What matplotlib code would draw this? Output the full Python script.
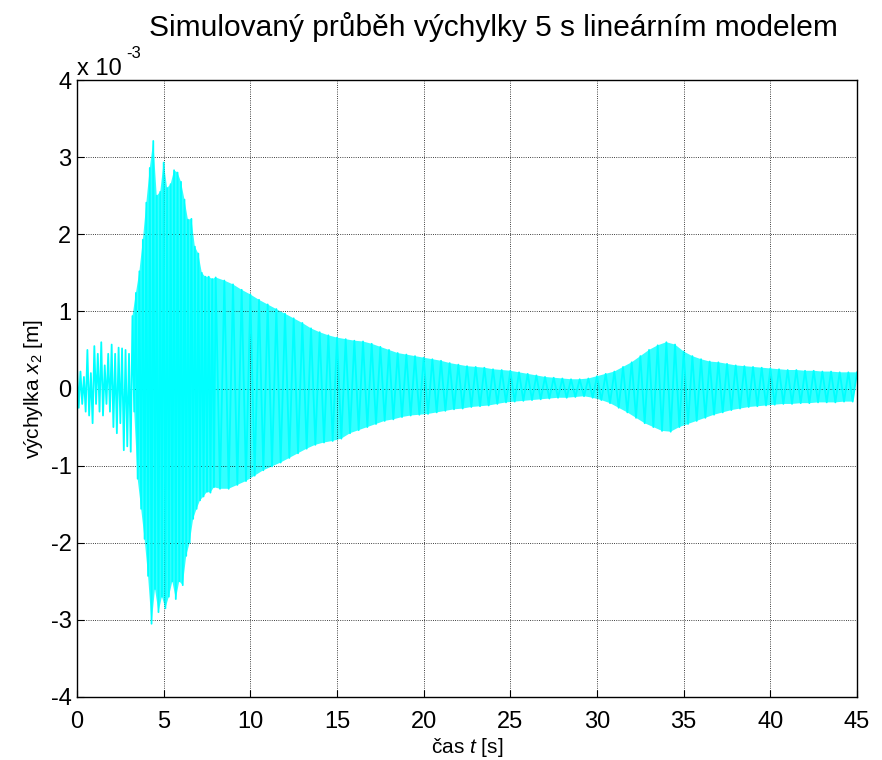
import numpy as np
import matplotlib
matplotlib.use('Agg')
import matplotlib.pyplot as plt

plt.rcParams['font.family'] = ['Liberation Sans', 'DejaVu Sans']
plt.rcParams['mathtext.fontset'] = 'custom'
plt.rcParams['mathtext.rm'] = 'Liberation Sans'
plt.rcParams['mathtext.it'] = 'Liberation Sans:italic'
plt.rcParams['axes.unicode_minus'] = False

##-----     DATA (x2 in 1e-3 m)     -----
# start of the record, peaks every 0.1 s with alternating sign (t = 0 ... 8 s)
early_t = np.arange(0, 8.05, 0.1)
early_x = [0.28, -0.25, 0.22, -0.20, 0.15, -0.30, 0.50, -0.35, 0.20, -0.45,
           0.55, -0.20, 0.45, -0.30, 0.60, -0.35, 0.30, -0.20, 0.45, -0.30,
           0.57, -0.50, 0.45, -0.58, 0.53, -0.45, 0.52, -0.80, 0.50, -0.75,
           0.45, -0.82, 0.94, -0.30, 1.24, -1.17, 1.52, -1.56, 1.93, -1.95,
           2.41, -2.43, 2.86, -3.05, 3.21, -2.60, 2.50, -2.90, 2.55, -2.70,
           2.93, -2.85, 2.60, -2.70, 2.65, -2.50, 2.83, -2.73, 2.80, -2.50,
           2.68, -2.55, 2.45, -2.17, 2.19, -2.00, 2.20, -1.69, 1.84, -1.56,
           1.75, -1.45, 1.50, -1.40, 1.45, -1.34, 1.45, -1.35, 1.42, -1.28,
           1.44]

# upper peaks (t = 8.5, 9.0, ... 45)
up_t = np.arange(8.5, 45.01, 0.5)
up_x = [1.40, 1.35, 1.28, 1.22, 1.15, 1.09, 1.03, 0.97, 0.91, 0.85,
        0.78, 0.73, 0.69, 0.66, 0.64, 0.62, 0.61, 0.58, 0.54, 0.50,
        0.46, 0.44, 0.42, 0.40, 0.38, 0.36, 0.33, 0.31, 0.29, 0.28,
        0.27, 0.25, 0.24, 0.23, 0.21, 0.19, 0.17, 0.15, 0.14, 0.13,
        0.12, 0.12, 0.13, 0.16, 0.19, 0.22, 0.28, 0.34, 0.42, 0.50,
        0.56, 0.60, 0.57, 0.48, 0.42, 0.38, 0.35, 0.34, 0.32, 0.30,
        0.29, 0.28, 0.27, 0.26, 0.25, 0.24, 0.24, 0.23, 0.23, 0.22,
        0.22, 0.21, 0.21, 0.21]

# lower peaks (t = 8.25, 8.75, ... 44.75)
lo_t = np.arange(8.25, 44.76, 0.5)
lo_x = [-1.30, -1.30, -1.25, -1.20, -1.13, -1.06, -1.01, -0.96, -0.90, -0.84,
        -0.78, -0.73, -0.70, -0.68, -0.65, -0.58, -0.54, -0.50, -0.46, -0.42,
        -0.40, -0.37, -0.35, -0.34, -0.33, -0.31, -0.29, -0.27, -0.26, -0.24,
        -0.23, -0.22, -0.20, -0.18, -0.17, -0.16, -0.15, -0.14, -0.13, -0.12,
        -0.12, -0.11, -0.10, -0.12, -0.15, -0.19, -0.25, -0.31, -0.38, -0.45,
        -0.50, -0.55, -0.56, -0.50, -0.46, -0.42, -0.38, -0.34, -0.31, -0.28,
        -0.26, -0.24, -0.23, -0.22, -0.21, -0.20, -0.20, -0.19, -0.19, -0.18,
        -0.18, -0.18, -0.17, -0.17]

x_ticks = np.arange(0, 46, 5)
y_ticks = np.arange(-4, 5, 1)

##-----     PLOT     -----
# merge the peaks in time order -> oscillation trace
main_t = np.concatenate([up_t, lo_t])
main_x = np.concatenate([up_x, lo_x])
order = np.argsort(main_t)
sig_t = np.concatenate([early_t, main_t[order]])
sig_x = np.concatenate([early_x, main_x[order]])

fig = plt.figure(figsize=(8.82, 7.6), dpi=100)
ax = fig.add_axes([0.0873, 0.0829, 0.8844, 0.8118])

# band between the upper and lower peaks (from the big excitation onwards)
band = sig_t >= 3.15
pos = band & (sig_x > 0)
neg = band & (sig_x < 0)
ax.fill(np.concatenate([sig_t[pos], sig_t[neg][::-1]]),
        np.concatenate([sig_x[pos], sig_x[neg][::-1]]),
        color='cyan', alpha=0.8, lw=0)
ax.plot(sig_t, sig_x, '-', color='cyan', lw=1.3)

ax.set_xlim(0, 45)
ax.set_ylim(-4, 4)
ax.set_xticks(x_ticks)
ax.set_yticks(y_ticks)
ax.grid(True, color='black', linestyle=':', linewidth=0.6)
ax.tick_params(direction='in', labelsize=17, length=5, width=0.8)
ax.tick_params(axis='x', pad=10)
ax.tick_params(axis='y', pad=4)
for s in ax.spines.values():
    s.set_linewidth(1.0)

# MATLAB-style exponent label
ax.text(0.0, 1.008, 'x 10', transform=ax.transAxes,
        fontsize=17, ha='left', va='baseline')
ax.text(0.063, 1.036, '-3', transform=ax.transAxes,
        fontsize=12, ha='left', va='baseline')
fig.text(0.56, 0.952, 'Simulovaný průběh výchylky 5 s lineárním modelem',
         fontsize=21.5, ha='center', va='baseline')
ax.set_xlabel(r'čas $t$ [s]', fontsize=15, labelpad=2)
ax.set_ylabel(r'výchylka $x_2$ [m]', fontsize=15, labelpad=4)

plt.savefig('out.png', dpi=100)
plt.close()
